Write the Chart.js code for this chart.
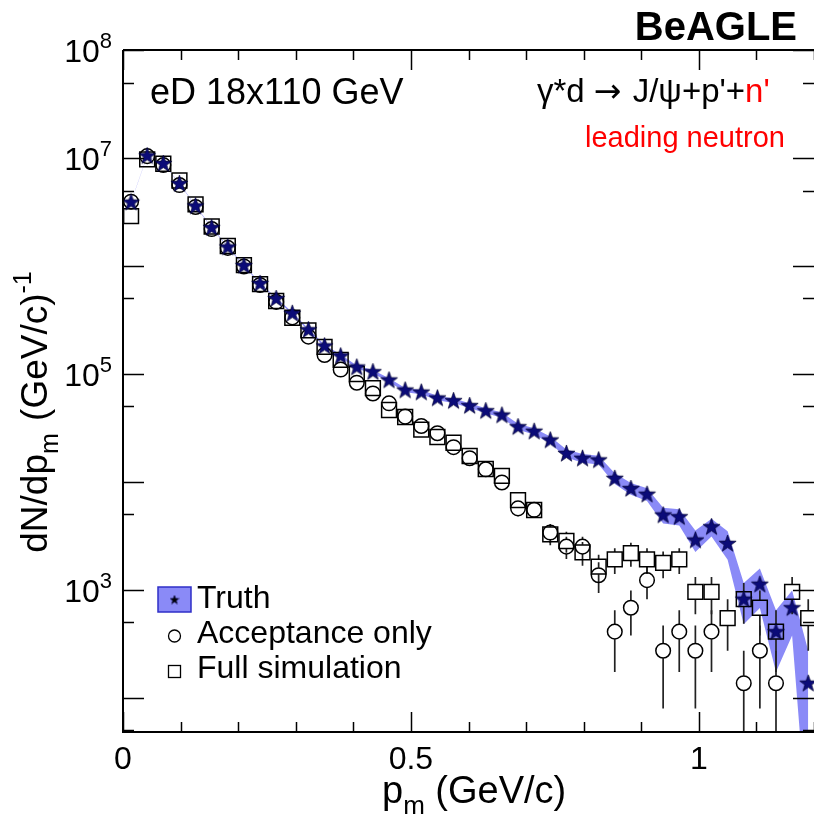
<!DOCTYPE html>
<html>
<head>
<meta charset="utf-8">
<script src="https://cdn.jsdelivr.net/npm/chart.js@4.4.1/dist/chart.umd.min.js"></script>
<style>
  html, body { margin: 0; padding: 0; background: #fff; }
  #wrap { width: 814px; height: 826px; }
</style>
</head>
<body>
<div id="wrap"><canvas id="pmChart" width="814" height="826"></canvas></div>
<script>
// bin centres in p_m (GeV/c)
const pmBins = [0.014, 0.042, 0.070, 0.098, 0.126, 0.154, 0.182, 0.210, 0.238, 0.266,
  0.294, 0.322, 0.350, 0.378, 0.406, 0.434, 0.462, 0.490, 0.518, 0.546,
  0.574, 0.602, 0.630, 0.658, 0.686, 0.714, 0.742, 0.770, 0.798, 0.826,
  0.854, 0.882, 0.910, 0.938, 0.966, 0.994, 1.022, 1.050, 1.078, 1.106,
  1.134, 1.162, 1.190];

const truthVals = [3.9e6, 1.05e7, 8.9e6, 5.8e6, 3.6e6, 2.27e6, 1.5e6, 1.01e6, 6.9e5, 5.0e5,
  3.65e5, 2.57e5, 1.82e5, 1.47e5, 1.16e5, 1.05e5, 8.8e4, 7.1e4, 6.8e4, 6.0e4,
  5.66e4, 5.1e4, 4.57e4, 4.17e4, 3.25e4, 2.95e4, 2.45e4, 1.84e4, 1.66e4, 1.6e4,
  1.08e4, 8700, 7700, 4950, 4770, 2900, 3850, 2700, 822, 1130,
  411, 685, 137];
const truthErr = [23100, 37900, 34900, 28200, 22200, 17600, 14300, 11800, 9700, 8300,
  7070, 5930, 4990, 4490, 3990, 3790, 3470, 3120, 3050, 2870,
  2780, 2640, 2500, 2390, 2110, 2010, 1830, 1590, 1510, 1480,
  1220, 1090, 1030, 823, 808, 650, 726, 800, 340, 450,
  237, 306, 137];

const accVals = [3.94e6, 1.04e7, 8.6e6, 5.62e6, 3.52e6, 2.2e6, 1.47e6, 9.9e5, 6.67e5, 4.65e5,
  3.34e5, 2.22e5, 1.5e5, 1.1e5, 8.3e4, 6.6e4, 5.35e4, 4.03e4, 3.3e4, 2.83e4,
  2.1e4, 1.66e4, 1.31e4, 9900, 5700, 5530, 3400, 2520, 2520, 1370,
  411, 685, 1233, 274, 411, 274, 411, null, 137, 274,
  137, null, null];
const accErr = [23200, 37700, 34300, 27700, 22000, 17400, 14200, 11600, 9560, 7980,
  6760, 5510, 4530, 3880, 3370, 3010, 2710, 2350, 2130, 1970,
  1700, 1510, 1340, 1160, 884, 870, 682, 588, 588, 433,
  237, 306, 411, 194, 237, 194, 237, null, 137, 194,
  137, null, null];

const fullVals = [2.9e6, 9.7e6, 8.85e6, 6.19e6, 3.72e6, 2.32e6, 1.53e6, 1.02e6, 6.8e5, 4.74e5,
  3.32e5, 2.53e5, 1.78e5, 1.35e5, 1.0e5, 7.4e4, 4.64e4, 4.0e4, 3.05e4, 2.61e4,
  2.31e4, 1.74e4, 1.32e4, 1.14e4, 6800, 5500, 3270, 2840, 2230, 1644,
  1918, 2192, 1918, 1781, 1918, 959, 959, 548, 822, 685,
  411, 959, 548];
const fullErr = [19900, 36500, 34800, 29100, 22600, 17800, 14500, 11800, 9650, 8060,
  6740, 5890, 4940, 4300, 3700, 3180, 2520, 2340, 2040, 1890,
  1780, 1540, 1340, 1250, 965, 868, 669, 624, 553, 474,
  513, 548, 513, 494, 513, 362, 362, 274, 336, 306,
  237, 362, 274];

const xTickVals = [0, 0.5, 1];
const xTickLabels = ["0", "0.5", "1"];
const yLabelPowers = [8, 7, 5, 3];

const FONT = "'Liberation Sans', Arial, Helvetica, sans-serif";
const bandColor = "rgba(105, 105, 245, 0.78)";
const starColor = "#0b0b78";

function makeStar(size, fill) {
  const c = document.createElement("canvas");
  c.width = size;
  c.height = size;
  const g = c.getContext("2d");
  const R = size / 2 - 0.5, r = R * 0.4, m = size / 2;
  g.beginPath();
  for (let k = 0; k < 10; k++) {
    const rad = k % 2 === 0 ? R : r;
    const a = -Math.PI / 2 + (k * Math.PI) / 5;
    const px = m + rad * Math.cos(a), py = m + 0.5 + rad * Math.sin(a);
    if (k === 0) g.moveTo(px, py);
    else g.lineTo(px, py);
  }
  g.closePath();
  g.fillStyle = fill;
  g.fill();
  g.lineWidth = 0.7;
  g.strokeStyle = "#000030";
  g.stroke();
  return c;
}
const starImg = makeStar(19, starColor);

const toPoints = (vals) => pmBins.map((x, i) => ({ x: x, y: vals[i] }));
const bandHi = pmBins.map((x, i) => ({ x: x, y: truthVals[i] + truthErr[i] }));
const bandLo = pmBins.map((x, i) => ({ x: x, y: Math.max(truthVals[i] - truthErr[i], 5) }));

function drawRich(ctx, parts, x, y) {
  let cx = x;
  parts.forEach((p) => {
    ctx.font = (p.weight || "normal") + " " + p.size + "px " + (p.family || FONT);
    ctx.fillStyle = p.color || "#000";
    ctx.fillText(p.t, cx, y + (p.dy || 0));
    cx += ctx.measureText(p.t).width + (p.gap || 0);
  });
  return cx - x;
}
function richWidth(ctx, parts) {
  let w = 0;
  parts.forEach((p) => {
    ctx.font = (p.weight || "normal") + " " + p.size + "px " + (p.family || FONT);
    w += ctx.measureText(p.t).width + (p.gap || 0);
  });
  return w;
}

const errorBars = {
  id: "errorBars",
  beforeDatasetDraw(chart, args) {
    if (args.index !== 2) return;
    const ctx = chart.ctx, area = chart.chartArea, ys = chart.scales.y, xs = chart.scales.x;
    ctx.save();
    ctx.beginPath();
    ctx.rect(area.left, area.top, area.right - area.left, area.bottom - area.top);
    ctx.clip();
    ctx.strokeStyle = "#222";
    ctx.lineWidth = 1.7;
    const sets = [[accVals, accErr, 7.5], [fullVals, fullErr, 7.5]];
    sets.forEach(([vals, errs, gap]) => {
      vals.forEach((v, i) => {
        if (v === null) return;
        const px = xs.getPixelForValue(pmBins[i]);
        const py = ys.getPixelForValue(v);
        const top = ys.getPixelForValue(v + errs[i]);
        const lo = v - errs[i];
        const bot = lo > 0 ? ys.getPixelForValue(lo) : area.bottom + 5;
        ctx.beginPath();
        if (py - gap > top) {
          ctx.moveTo(px, top);
          ctx.lineTo(px, py - gap);
        }
        if (bot > py + gap) {
          ctx.moveTo(px, py + gap);
          ctx.lineTo(px, bot);
        }
        ctx.stroke();
      });
    });
    ctx.restore();
  },
};

const rootFrame = {
  id: "rootFrame",
  afterDraw(chart) {
    const ctx = chart.ctx, area = chart.chartArea, xs = chart.scales.x, ys = chart.scales.y;
    ctx.save();
    ctx.strokeStyle = "#000";
    ctx.lineWidth = 2;
    ctx.beginPath();
    ctx.moveTo(area.left, area.top);
    ctx.lineTo(area.left, area.bottom);
    ctx.lineTo(area.right + 2, area.bottom);
    ctx.moveTo(area.left, area.top);
    ctx.lineTo(area.right + 2, area.top);
    ctx.stroke();

    // x ticks, bottom and top
    ctx.lineWidth = 1.5;
    ctx.beginPath();
    for (let k = 0; k <= 12; k++) {
      const px = Math.round(xs.getPixelForValue(k / 10)) + 0.5;
      const len = k % 5 === 0 ? 20 : 10;
      ctx.moveTo(px, area.bottom);
      ctx.lineTo(px, area.bottom - len);
      ctx.moveTo(px, area.top);
      ctx.lineTo(px, area.top + len);
    }
    // y ticks, left and right
    for (let p = 1; p <= 8; p++) {
      [[Math.pow(10, p), 21], [5 * Math.pow(10, p), 11]].forEach(([v, len]) => {
        if (v < ys.min || v > ys.max) return;
        const py = Math.round(ys.getPixelForValue(v)) + 0.5;
        ctx.moveTo(area.left, py);
        ctx.lineTo(area.left + len, py);
        ctx.moveTo(area.right, py);
        ctx.lineTo(area.right - len, py);
      });
    }
    ctx.stroke();

    // tick labels
    ctx.textBaseline = "alphabetic";
    ctx.font = "32px " + FONT;
    ctx.fillStyle = "#000";
    ctx.textAlign = "center";
    xTickVals.forEach((v, i) => {
      ctx.fillText(xTickLabels[i], xs.getPixelForValue(v), area.bottom + 37);
    });
    ctx.textAlign = "left";
    yLabelPowers.forEach((p) => {
      const py = ys.getPixelForValue(Math.pow(10, p));
      const parts = [{ t: "10", size: 32 }, { t: String(p), size: 22, dy: -14 }];
      const w = richWidth(ctx, parts);
      drawRich(ctx, parts, 112 - w, py + 12);
    });

    // axis titles
    drawRich(ctx, [
      { t: "p", size: 38 },
      { t: "m", size: 26, dy: 11 },
      { t: " (GeV/c)", size: 38 },
    ], 382, 803);

    const yParts = [
      { t: "dN/dp", size: 37 },
      { t: "m", size: 25, dy: 11, gap: 2 },
      { t: " (GeV/c)", size: 37 },
      { t: "-1", size: 25, dy: -16 },
    ];
    ctx.save();
    ctx.translate(47, 412);
    ctx.rotate(-Math.PI / 2);
    drawRich(ctx, yParts, -richWidth(ctx, yParts) / 2, 0);
    ctx.restore();

    // labels inside the frame
    ctx.textAlign = "right";
    ctx.font = "bold 40px " + FONT;
    ctx.fillText("BeAGLE", 797, 40);
    ctx.textAlign = "left";
    drawRich(ctx, [{ t: "eD 18x110 GeV", size: 36 }], 150, 104);
    drawRich(ctx, [
      { t: "\u03b3*d ", size: 33 },
      { t: "\u2192", size: 33, family: "'DejaVu Sans', sans-serif", gap: 2 },
      { t: " J/\u03c8+p'+", size: 33 },
      { t: "n'", size: 33, color: "#ff0000" },
    ], 537, 102);
    drawRich(ctx, [{ t: "leading neutron", size: 29, color: "#ff0000" }], 585, 147);

    // legend
    ctx.fillStyle = bandColor;
    ctx.fillRect(158, 587, 33, 25);
    ctx.strokeStyle = "#2f2fc8";
    ctx.lineWidth = 1.5;
    ctx.strokeRect(158, 587, 33, 25);
    ctx.drawImage(makeStar(10, "#000"), 169.5, 594.5);
    ctx.strokeStyle = "#000";
    ctx.lineWidth = 1.3;
    ctx.beginPath();
    ctx.arc(174.5, 636, 6, 0, Math.PI * 2);
    ctx.stroke();
    ctx.strokeRect(168.5, 665.5, 12, 12);
    ctx.fillStyle = "#000";
    ctx.font = "32px " + FONT;
    ctx.fillText("Truth", 197, 608);
    ctx.fillText("Acceptance only", 197, 643);
    ctx.fillText("Full simulation", 197, 678);
    ctx.restore();
  },
};

new Chart(document.getElementById("pmChart"), {
  type: "line",
  data: {
    datasets: [
      {
        label: "Truth",
        data: toPoints(truthVals),
        showLine: false,
        pointStyle: starImg,
        pointRadius: 9,
      },
      {
        label: "Full simulation",
        data: toPoints(fullVals),
        showLine: false,
        pointStyle: "rect",
        pointRadius: 10.5,
        borderColor: "#000",
        borderWidth: 1.5,
        backgroundColor: "rgba(0,0,0,0)",
      },
      {
        label: "Acceptance only",
        data: toPoints(accVals),
        showLine: false,
        pointStyle: "circle",
        pointRadius: 7.3,
        borderColor: "#000",
        borderWidth: 1.5,
        backgroundColor: "rgba(0,0,0,0)",
      },
      {
        label: "band high",
        data: bandHi,
        borderWidth: 0,
        pointRadius: 0,
        tension: 0,
        fill: false,
      },
      {
        label: "band low",
        data: bandLo,
        borderWidth: 0,
        pointRadius: 0,
        tension: 0,
        fill: "-1",
        backgroundColor: bandColor,
      },
    ],
  },
  options: {
    responsive: false,
    animation: false,
    layout: { autoPadding: false, padding: { left: 123, top: 50, right: 0, bottom: 94 } },
    scales: {
      x: { type: "linear", min: 0, max: 1.2, display: false },
      y: { type: "logarithmic", min: 48.4, max: 1e8, display: false },
    },
    plugins: {
      legend: { display: false },
      tooltip: { enabled: false },
    },
  },
  plugins: [errorBars, rootFrame],
});
</script>
</body>
</html>
